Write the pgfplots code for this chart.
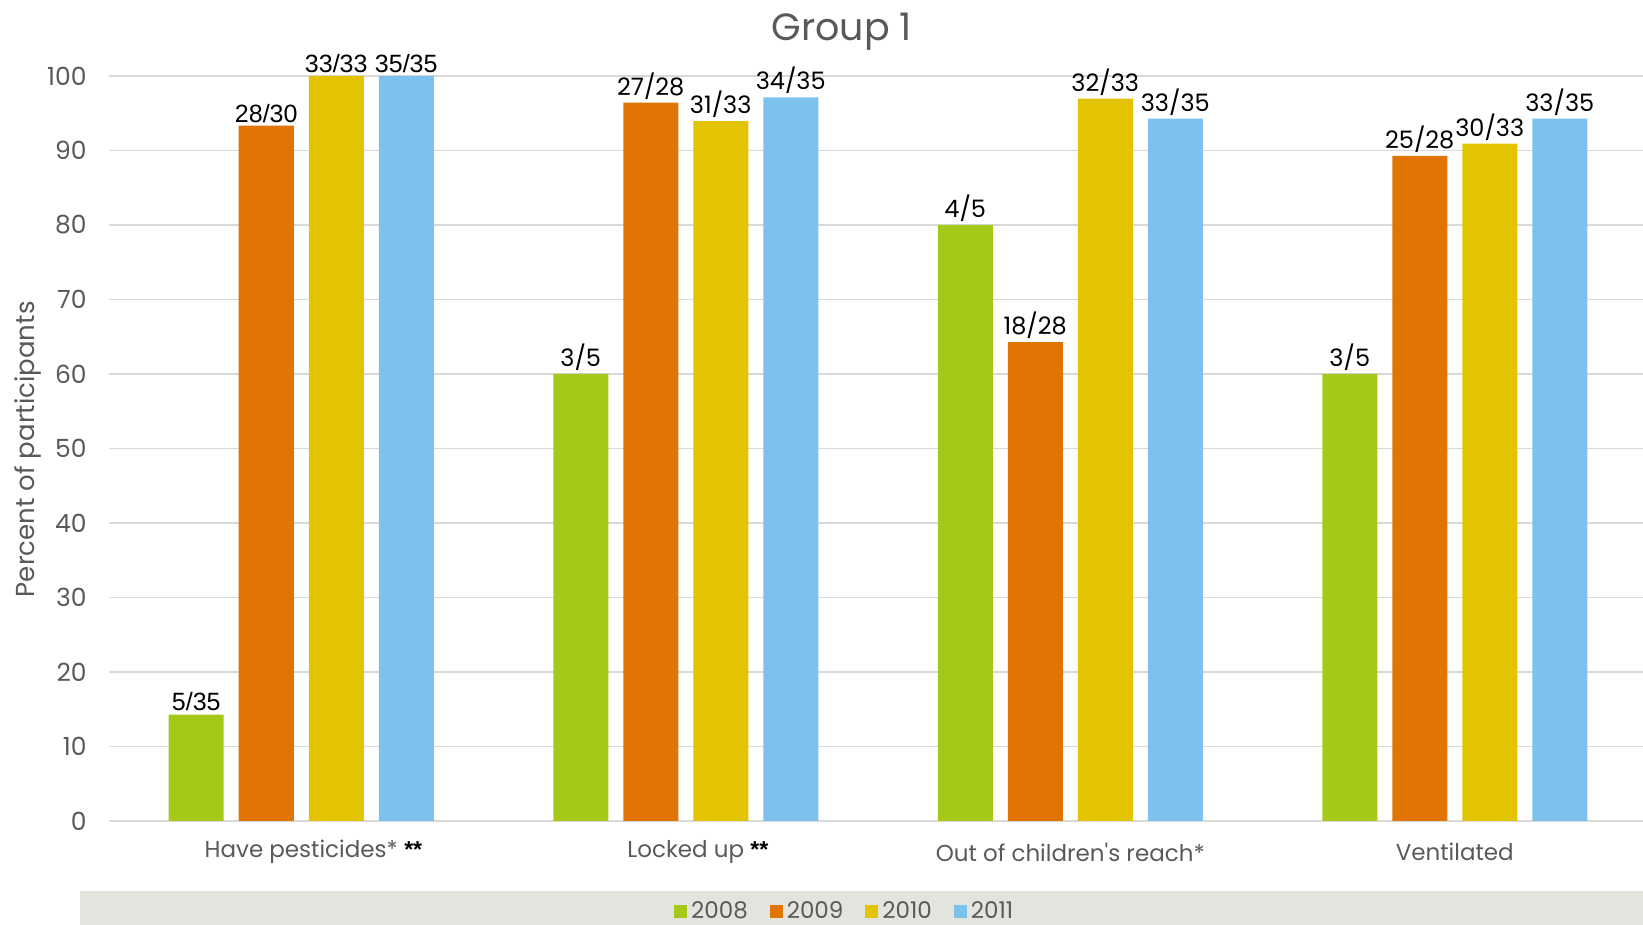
\documentclass[border=0pt]{standalone}
\usepackage{fontspec}
\setmainfont{Poppins}
\newfontfamily\lsans{Liberation Sans}
\usepackage{pgfplots}
\pgfplotsset{compat=1.18}

\definecolor{cGreen}{HTML}{A5C918}
\definecolor{cOrange}{HTML}{E07503}
\definecolor{cYellow}{HTML}{E3C403}
\definecolor{cBlue}{HTML}{7DC1ED}
\definecolor{gridgray}{HTML}{D9D9D9}
\definecolor{txtgray}{HTML}{595959}
\definecolor{bandgray}{HTML}{E3E4DD}

\begin{document}
\begin{tikzpicture}
\path[use as bounding box] (0,0) rectangle (821.5pt,462.5pt);
% legend band
\fill[bandgray] (40pt,0) rectangle (821.5pt,17pt);
\begin{axis}[
  at={(54.5pt,52pt)}, anchor=south west,
  scale only axis, width=769pt, height=372.5pt,
  ybar=7.5pt, bar width=27.5pt,
  xmin=-0.5, xmax=3.5, ymin=0, ymax=100,
  xtick={0,1,2,3},
  xticklabels={
    {Have pesticides*\rlap{\color{black}\lsans\bfseries\ **}},
    {Locked up\rlap{\color{black}\lsans\bfseries\ **}},
    {Out of children\textquotesingle s reach*},
    {Ventilated}},
  ytick={0,10,...,100},
  ymajorgrids, major grid style={gridgray, line width=0.75pt},
  axis line style={draw=none},
  major tick length=0pt,
  /pgf/number format/assume math mode=true,
  yticklabel style={font=\fontsize{12.5}{14}\selectfont, text=txtgray, anchor=east, inner sep=0pt, xshift=-11pt},
  xticklabel style={font=\fontsize{11.5}{13}\selectfont, text=txtgray, anchor=center, inner sep=0pt, yshift=-15.5pt},
  ylabel={Percent of participants},
  every axis y label/.style={at={(rel axis cs:-0.0524,0.499)}, rotate=90, anchor=center,
    font=\fontsize{13}{15}\selectfont, text=txtgray},
  title={Group 1},
  every axis title/.style={at={(rel axis cs:0.4765,1.06)}, anchor=center,
    font=\fontsize{19}{22}\selectfont, text=txtgray},
  clip=false,
  point meta=explicit symbolic,
  nodes near coords,
  every node near coord/.append style={font=\fontsize{12}{14}\selectfont, text=black, anchor=south, inner sep=0.5pt, yshift=1pt},
  legend columns=4,
  legend style={draw=none, fill=none, at={(rel axis cs:0.479,-0.121)}, anchor=center,
    font=\fontsize{11.5}{13}\selectfont, text=txtgray,
    /tikz/every even column/.append style={column sep=9pt}},
  legend image code/.code={\fill[#1] (0pt,-3.25pt) rectangle (6.5pt,3.25pt);},
]
\addplot[fill=cGreen, draw=none] coordinates {
  (0,14.29) [{\lsans\fontsize{12.5}{14}\selectfont 5/35}]
  (1,60.00) [3/5]
  (2,80.00) [4/5]
  (3,60.00) [3/5]
};
\addplot[fill=cOrange, draw=none] coordinates {
  (0,93.33) [{\lsans\fontsize{12.5}{14}\selectfont 28/30}]
  (1,96.43) [27/28]
  (2,64.29) [18/28]
  (3,89.29) [25/28]
};
\addplot[fill=cYellow, draw=none] coordinates {
  (0,100.00) [{\lsans\fontsize{12.5}{14}\selectfont 33/33}]
  (1,93.94) [31/33]
  (2,96.97) [32/33]
  (3,90.91) [30/33]
};
\addplot[fill=cBlue, draw=none] coordinates {
  (0,100.00) [{\lsans\fontsize{12.5}{14}\selectfont 35/35}]
  (1,97.14) [34/35]
  (2,94.29) [33/35]
  (3,94.29) [33/35]
};
\legend{2008,2009,2010,2011}
\end{axis}
\end{tikzpicture}
\end{document}
